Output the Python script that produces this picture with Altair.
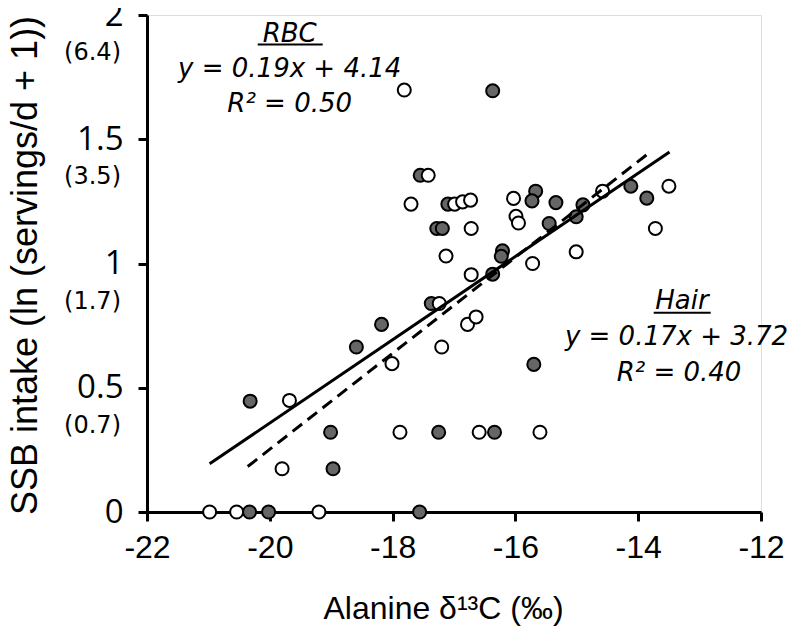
import altair as alt
import pandas as pd

# ---- data ----
filled_x = [-16.37, -17.55, -17.10, -17.28, -17.19, -15.67, -15.73, -15.34, -14.12, -13.86,
            -14.90, -15.01, -15.45, -16.21, -16.23, -16.37, -17.37, -18.18, -18.59, -15.70,
            -20.32, -19.01, -17.25, -16.34, -18.97, -20.33, -20.02, -17.56]
filled_y = [1.695, 1.355, 1.239, 1.141, 1.141, 1.291, 1.252, 1.245, 1.311, 1.263,
            1.236, 1.188, 1.161, 1.051, 1.029, 0.957, 0.839, 0.755, 0.664, 0.594,
            0.446, 0.321, 0.321, 0.321, 0.174, 0.0, 0.0, 0.0]

open_x = [-17.81, -17.42, -17.70, -16.99, -16.86, -16.73, -16.72, -17.13, -16.03, -14.58,
          -13.50, -15.99, -15.95, -13.72, -15.01, -15.72, -16.72, -17.24, -16.78, -16.64,
          -17.20, -18.01, -19.68, -17.88, -16.59, -15.60, -19.80, -20.98, -20.54, -19.20]
open_y = [1.698, 1.355, 1.239, 1.239, 1.248, 1.255, 1.141, 1.030, 1.262, 1.291,
          1.311, 1.190, 1.163, 1.141, 1.047, 1.000, 0.955, 0.839, 0.755, 0.785,
          0.664, 0.597, 0.449, 0.321, 0.321, 0.321, 0.174, 0.0, 0.0, 0.0]

hair_line_x = [-20.98, -13.49]
hair_line_y = [0.194, 1.449]
rbc_line_x = [-20.36, -13.85]
rbc_line_y = [0.183, 1.440]

x_ticks = [-22, -20, -18, -16, -14, -12]
y_ticks = [0, 0.5, 1, 1.5, 2]
y_sub_at = [2, 1.5, 1, 0.5]
y_sub_labels = ["(6.4)", "(3.5)", "(1.7)", "(0.7)"]

rbc_text = ["RBC", "y = 0.19x + 4.14", "R² = 0.50"]
hair_text = ["Hair", "y = 0.17x + 3.72", "R² = 0.40"]

# ---- tables ----
filled_df = pd.DataFrame({"x": filled_x, "y": filled_y})
open_df = pd.DataFrame({"x": open_x, "y": open_y})
hair_df = pd.DataFrame({"x": hair_line_x, "y": hair_line_y})
rbc_df = pd.DataFrame({"x": rbc_line_x, "y": rbc_line_y})
sub_df = pd.DataFrame({"y": y_sub_at, "t": y_sub_labels})

W, H = 614, 497
xs = alt.Scale(domain=[-22, -12], nice=False, zero=False)
ys = alt.Scale(domain=[0, 2], nice=False, zero=False)

x_axis = alt.Axis(
    values=x_ticks, labelExpr="'' + datum.value", grid=False,
    domainColor="black", domainWidth=3, tickColor="black", tickWidth=3, tickSize=9,
    labelFont="Liberation Sans", labelFontSize=32, labelColor="black", labelPadding=11,
    labelFlush=False, labelOverlap=False,
    title="Alanine δ¹³C (‰)", titleFont="Liberation Sans", titleFontSize=32,
    titleFontWeight="normal", titleColor="black", titleX=296, titleY=96,
    titleBaseline="middle", titleAlign="center",
)
y_axis = alt.Axis(
    values=y_ticks, labelExpr="'' + datum.value", grid=False,
    domainColor="black", domainWidth=3, tickColor="black", tickWidth=3, tickSize=9,
    labelFont="Open Sans", labelFontSize=33, labelColor="black", labelPadding=15,
    labelFlush=False, labelOverlap=False, labelBaseline="middle",
    title="SSB intake (ln (servings/d + 1))", titleFont="Liberation Sans", titleFontSize=36,
    titleFontWeight="normal", titleColor="black", titleX=-111, titleY=250,
    titleBaseline="alphabetic", titleAlign="center", titleAngle=270,
)

base_x = alt.X("x:Q", scale=xs, axis=x_axis)
base_y = alt.Y("y:Q", scale=ys, axis=y_axis)

filled = alt.Chart(filled_df).mark_circle(
    size=170, fill="#666666", stroke="black", strokeWidth=2, opacity=1
).encode(x=base_x, y=base_y)

opened = alt.Chart(open_df).mark_circle(
    size=170, fill="white", stroke="black", strokeWidth=2, opacity=1
).encode(x=alt.X("x:Q", scale=xs), y=alt.Y("y:Q", scale=ys))

hair_line = alt.Chart(hair_df).mark_line(color="black", strokeWidth=3).encode(
    x=alt.X("x:Q", scale=xs), y=alt.Y("y:Q", scale=ys))
rbc_line = alt.Chart(rbc_df).mark_line(color="black", strokeWidth=3, strokeDash=[12, 7]).encode(
    x=alt.X("x:Q", scale=xs), y=alt.Y("y:Q", scale=ys))

sub_labels = alt.Chart(sub_df).mark_text(
    font="DejaVu Sans", fontSize=24, color="black", align="right", baseline="middle", dy=38
).encode(x=alt.value(-26), y=alt.Y("y:Q", scale=ys), text="t:N")


def ann(text, px, py, size=26):
    return alt.Chart(pd.DataFrame({"t": [text]})).mark_text(
        font="DejaVu Sans", fontStyle="italic", fontSize=size, color="black",
        align="center", baseline="alphabetic"
    ).encode(x=alt.value(px), y=alt.value(py), text="t:N")


def uline(x1, x2, py):
    return alt.Chart(pd.DataFrame({"t": [0]})).mark_rule(color="black", strokeWidth=2).encode(
        x=alt.value(x1), x2=alt.value(x2), y=alt.value(py))


layers = [
    filled, opened, hair_line, rbc_line, sub_labels,
    ann(rbc_text[0], 142.7, 26.7), ann(rbc_text[1], 142.7, 61.7), ann(rbc_text[2], 142.7, 96.7),
    ann(hair_text[0], 535, 294.3), ann(hair_text[1], 529.5, 330), ann(hair_text[2], 532, 365.7),
    uline(110.7, 175.7, 29.5), uline(506.7, 563.7, 297.7),
]

chart = alt.layer(*layers).properties(
    width=W, height=H,
    autosize=alt.AutoSizeParams(type="none"),
    padding={"left": 139, "top": 7, "right": 28, "bottom": 116},
).configure_view(stroke=None).configure(background="white")

chart.save("out.html", embed_options={"renderer": "svg", "actions": False})
